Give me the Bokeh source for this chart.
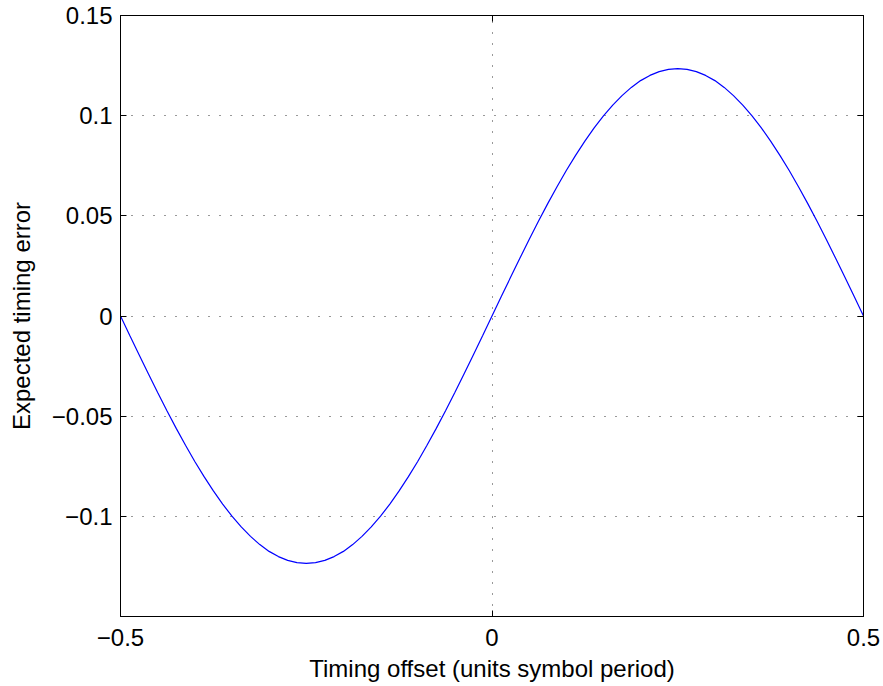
import numpy as np
from bokeh.plotting import figure
from bokeh.models import LinearAxis, FixedTicker, CustomJSTickFormatter, Range1d
from bokeh.embed import file_html
from bokeh.resources import INLINE

# ---- data ----
timing_offset = np.round(np.linspace(-0.5, 0.5, 81), 4).tolist()
expected_error = [
    0.0, -0.0097, -0.0193, -0.0288, -0.0382, -0.0473, -0.0561, -0.0645,
    -0.0726, -0.0802, -0.0873, -0.0939, -0.0999, -0.1053, -0.1100, -0.1141,
    -0.1175, -0.1201, -0.1220, -0.1231, -0.1235, -0.1231, -0.1220, -0.1201,
    -0.1175, -0.1141, -0.1100, -0.1053, -0.0999, -0.0939, -0.0873, -0.0802,
    -0.0726, -0.0645, -0.0561, -0.0473, -0.0382, -0.0288, -0.0193, -0.0097,
    0.0,
    0.0097, 0.0193, 0.0288, 0.0382, 0.0473, 0.0561, 0.0645, 0.0726,
    0.0802, 0.0873, 0.0939, 0.0999, 0.1053, 0.1100, 0.1141, 0.1175,
    0.1201, 0.1220, 0.1231, 0.1235, 0.1231, 0.1220, 0.1201, 0.1175,
    0.1141, 0.1100, 0.1053, 0.0999, 0.0939, 0.0873, 0.0802, 0.0726,
    0.0645, 0.0561, 0.0473, 0.0382, 0.0288, 0.0193, 0.0097, 0.0,
]
x_ticks = [-0.5, 0, 0.5]
y_ticks = [-0.1, -0.05, 0, 0.05, 0.1, 0.15]
x_grid_ticks = [0]
x_label = "Timing offset (units symbol period)"
y_label = "Expected timing error"

FONT = "Liberation Sans"
TICK_SIZE = "24px"
LABEL_SIZE = "24px"

p = figure(
    width=883, height=686,
    x_range=Range1d(-0.5, 0.5), y_range=Range1d(-0.15, 0.15),
    output_backend="svg", toolbar_location=None,
    min_border_left=120, min_border_right=20,
    min_border_top=15, min_border_bottom=70,
    background_fill_color="white", border_fill_color="white",
)
p.outline_line_color = "black"
p.outline_line_width = 1

fmt = CustomJSTickFormatter(
    code="return String(Number(tick.toFixed(2))).replace('-', '\u2212');"
)

def style_axis(ax, ticks, show_labels):
    ax.ticker = FixedTicker(ticks=ticks)
    ax.minor_tick_line_color = None
    ax.major_tick_in = 6
    ax.major_tick_out = 0
    ax.major_tick_line_color = "black"
    ax.major_tick_line_width = 1
    ax.axis_line_color = "black"
    ax.axis_line_width = 1
    if show_labels:
        ax.formatter = fmt
        ax.major_label_text_font = FONT
        ax.major_label_text_font_size = TICK_SIZE
        ax.major_label_text_color = "black"
        ax.axis_label_text_font = FONT
        ax.axis_label_text_font_size = LABEL_SIZE
        ax.axis_label_text_font_style = "normal"
        ax.axis_label_text_color = "black"
    else:
        ax.major_label_text_font_size = "0px"
        ax.major_label_standoff = 0
        ax.major_label_overrides = {t: "" for t in ticks}

xa = p.xaxis[0]
ya = p.yaxis[0]
style_axis(xa, x_ticks, True)
style_axis(ya, y_ticks, True)
xa.axis_label = x_label
xa.major_label_standoff = 12
xa.axis_label_standoff = 6
ya.axis_label = y_label
ya.major_label_standoff = 8
ya.axis_label_standoff = 14
ya.major_label_orientation = "horizontal"

top = LinearAxis()
style_axis(top, x_ticks, False)
right = LinearAxis()
style_axis(right, y_ticks, False)
p.add_layout(top, "above")
p.add_layout(right, "right")

p.xgrid.ticker = FixedTicker(ticks=x_grid_ticks)
p.ygrid.ticker = FixedTicker(ticks=y_ticks)
for g in (p.xgrid[0], p.ygrid[0]):
    g.grid_line_color = "black"
    g.grid_line_width = 1
    g.grid_line_dash = "1 10"
    g.grid_line_alpha = 0.8

p.line(timing_offset, expected_error, line_color="#0000ff", line_width=1.2)

open("out.html", "w").write(file_html(p, INLINE))
